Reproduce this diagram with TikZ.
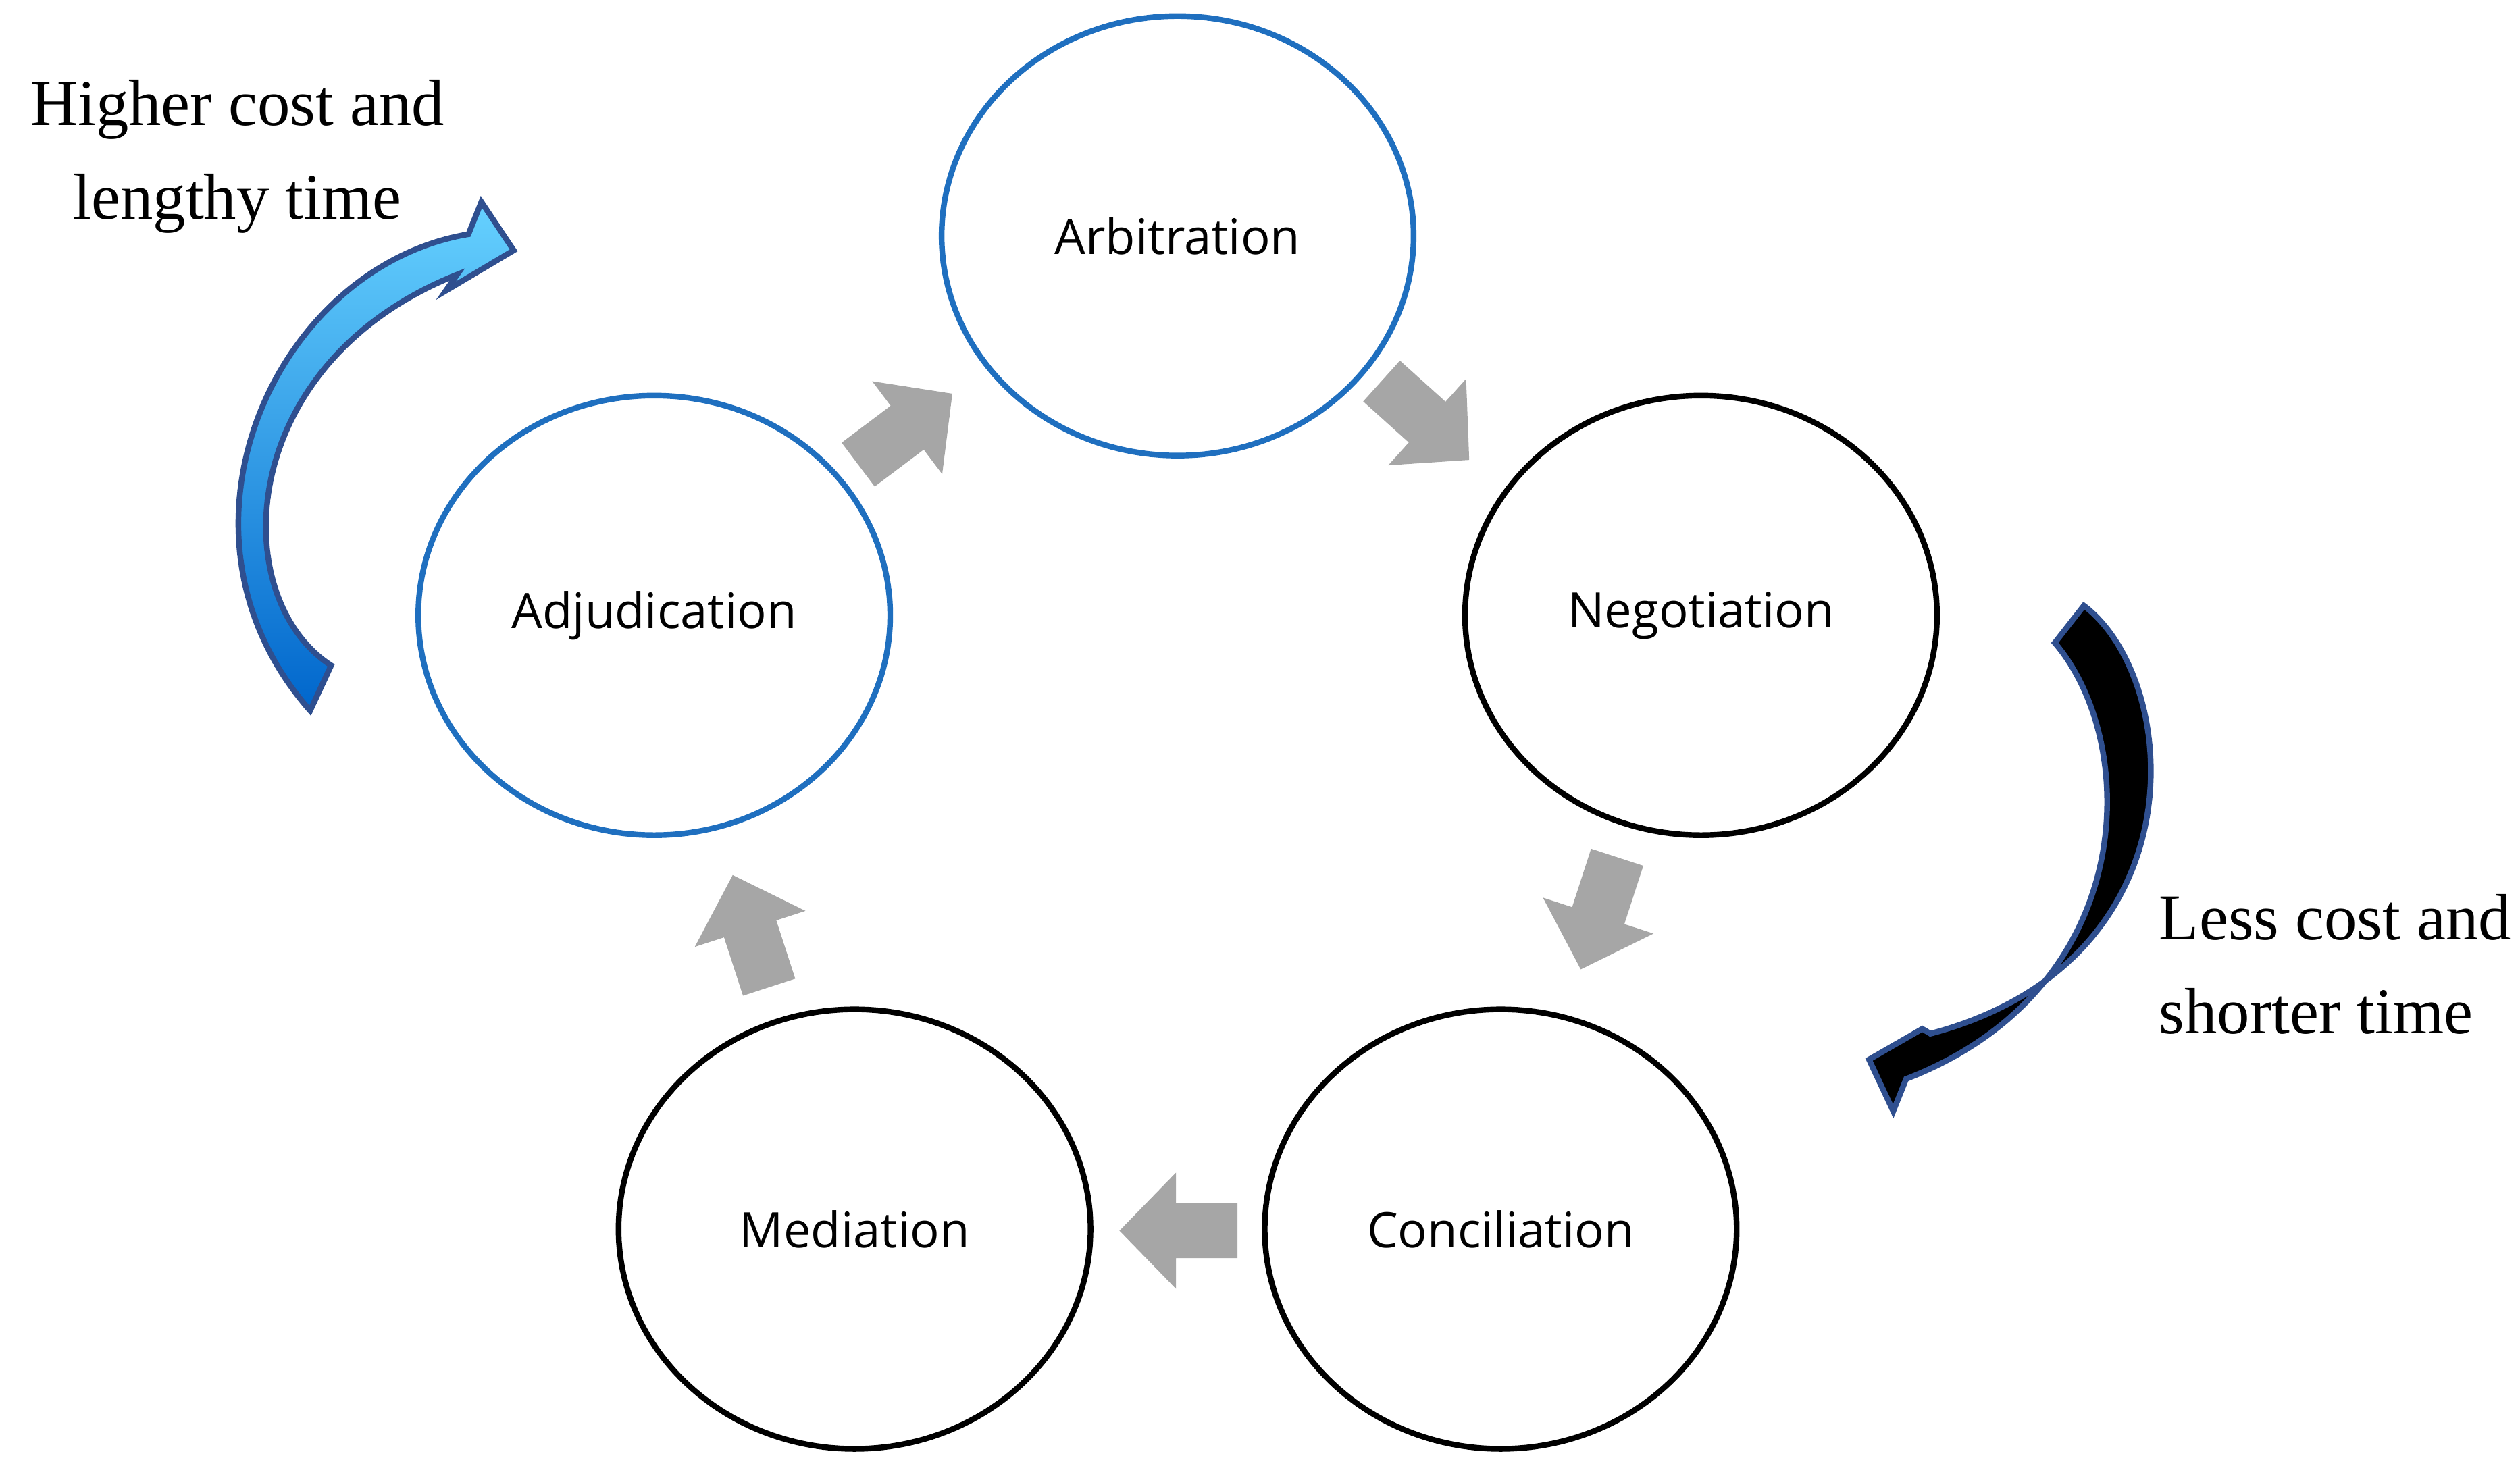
\documentclass[tikz,border=0pt]{standalone}
\usepackage{fontspec}
\setmainfont{Liberation Serif}
\newfontfamily\lblfont{Open Sans}
\usetikzlibrary{shapes.geometric}
\definecolor{ringblue}{HTML}{1F6FBF}
\definecolor{blockgray}{HTML}{A6A6A6}
\definecolor{edgeblue}{HTML}{2F4F8F}
\tikzset{blk/.pic={\fill[blockgray] (-36,-17) -- (2,-17) -- (2,-36) -- (37,0) -- (2,36) -- (2,17) -- (-36,17) -- cycle;}}
\begin{document}
\begin{tikzpicture}[x=0.01cm,y=-0.01cm,
  stage/.style={ellipse,draw,line width=1pt,minimum width=2.92cm,minimum height=2.72cm,font=\lblfont\fontsize{8.6}{11}\selectfont},
  note/.style={align=left,font=\fontsize{11.5}{16.5}\selectfont}]
\useasboundingbox (0,0) rectangle (1560,905);
\node[stage,draw=ringblue] (arb) at (729,146) {Arbitration};
\node[stage] (neg) at (1053,381) {Negotiation};
\node[stage] (con) at (929,761) {Conciliation};
\node[stage] (med) at (529,761) {Mediation};
\node[stage,draw=ringblue] (adj) at (405,381) {Adjudication};
\pic[rotate=37] at (560,266) {blk};
\pic[rotate=-42] at (882,260) {blk};
\pic[rotate=-108] at (990,565) {blk};
\pic[rotate=180] at (730,762) {blk};
\pic[rotate=108] at (465,577) {blk};
\shade[top color=cyan!70!blue!60,bottom color=blue!50!cyan!80!black,draw=edgeblue,line width=1pt]
 (205,412) .. controls (140,370) and (145,225) .. (283,170) -- (276,180) -- (318,155) -- (298,125) -- (290,145)
 .. controls (170,165) and (95,330) .. (192,440) -- cycle;
\fill[black,draw=edgeblue,line width=1pt]
 (1290,375) .. controls (1350,420) and (1365,595) .. (1195,640) -- (1190,637) -- (1157,656) -- (1172,688) -- (1180,668)
 .. controls (1325,612) and (1325,460) .. (1272,398) -- cycle;
\node[note,align=center] (t1) at (147,97) {Higher cost and\\lengthy time};
\node[note,anchor=west,inner sep=0pt] (t2) at (1336,597) {Less cost and\\shorter time};
\end{tikzpicture}
\end{document}
